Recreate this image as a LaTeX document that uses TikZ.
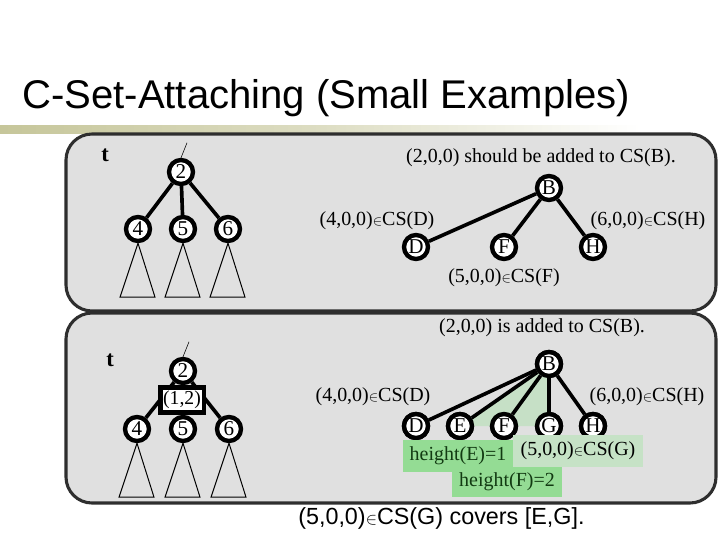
\documentclass[tikz,border=0pt]{standalone}
\usepackage{fontspec}
\setmainfont{Liberation Serif}
\setsansfont{Liberation Sans}
\usetikzlibrary{positioning}
\definecolor{panelgray}{HTML}{E0E0E0}
\definecolor{paneledge}{HTML}{2E2E2E}
\definecolor{barolive}{HTML}{C6C69A}
\definecolor{hgreen}{HTML}{94DC94}
\definecolor{csgreen}{HTML}{C6E2C6}
\definecolor{fangreen}{HTML}{C6E0C6}
\definecolor{labgreen}{HTML}{123A12}

\begin{document}
\begin{tikzpicture}[x=0.025cm, y=-0.025cm,
    vert/.style={circle, draw, line width=3.1pt, fill=white, inner sep=0pt,
                 minimum size=0.6cm, font=\fontsize{15}{15}\selectfont},
    edge/.style={line width=2.6pt},
    lab/.style={font=\fontsize{14.2}{16}\selectfont, inner sep=1pt},
    subtree/.style={draw, line width=0.7pt},
    panel/.style={draw=paneledge, line width=2.2pt, fill=panelgray, rounded corners=0.65cm},
    tagbox/.style={lab, minimum width=2.75cm, minimum height=0.78cm, inner sep=0pt}
]
  \useasboundingbox (0,0) rectangle (720,540);

  % title and bar
  \node[anchor=base west, inner sep=0pt, font=\sffamily\fontsize{28.5}{30}\selectfont] (title) at (22,108) {C-Set-Attaching (Small Examples)};
  \shade[left color=barolive, right color=white, middle color=barolive!60!white] (0,125) rectangle (640,133);

  \draw[panel] (66,134) rectangle (716,311);
  \draw[panel] (66,313) rectangle (716,503);

  % top left: tree t
  \node[lab, font=\bfseries\fontsize{16}{16}\selectfont] (t1) at (105,155) {t};
  \node[vert] (a2) at (181,172) {2};
  \node[vert] (a4) at (138,229) {4};
  \node[vert] (a5) at (183,229) {5};
  \node[vert] (a6) at (228,229) {6};
  \draw[thin] (a2.north) -- ++(6,-15);
  \draw[edge] (a2) -- (a4);
  \draw[edge] (a2) -- (a5);
  \draw[edge] (a2) -- (a6);
  \foreach \n in {a4,a5,a6}
    \draw[subtree] (\n.south) -- ++(-18,54) -- ++(35,0) -- cycle;

  % top right: C-sets before
  \node[lab] (msg1) at (541,158) {(2,0,0) should be added to CS(B).};
  \node[vert] (b1) at (549,188) {B};
  \node[vert] (d1) at (416,247) {D};
  \node[vert] (f1) at (504,247) {F};
  \node[vert] (h1) at (593,247) {H};
  \draw[edge] (b1) -- (d1);
  \draw[edge] (b1) -- (f1);
  \draw[edge] (b1) -- (h1);
  \node[lab] (csd1) at (377,221) {(4,0,0)${\scriptstyle\in}$CS(D)};
  \node[lab] (csh1) at (648,221) {(6,0,0)${\scriptstyle\in}$CS(H)};
  \node[lab, below=0.15cm of f1] (csf1) {(5,0,0)${\scriptstyle\in}$CS(F)};

  % bottom left: tree t with (1,2)
  \node[lab, font=\bfseries\fontsize{16}{16}\selectfont] (t2) at (110,360) {t};
  \node[vert] (c2) at (183,371) {2};
  \node[vert] (c4) at (137,429) {4};
  \node[vert] (c5) at (183,429) {5};
  \node[vert] (c6) at (229,429) {6};
  \draw[thin] (c2.north) -- ++(6,-15);
  \draw[edge] (c2) -- (c4);
  \draw[edge] (c2) -- (c5);
  \draw[edge] (c2) -- (c6);
  \node[draw, line width=3pt, fill=white, inner sep=1pt, minimum width=1.08cm, minimum height=0.62cm,
        font=\fontsize{14}{14}\selectfont] (c12) at (182,400) {(1,2)};
  \foreach \n in {c4,c5,c6}
    \draw[subtree] (\n.south) -- ++(-18,54) -- ++(35,0) -- cycle;

  % bottom right: C-sets after
  \node[lab] (msg2) at (542,328) {(2,0,0) is added to CS(B).};
  \node[vert] (b2) at (549,364) {B};
  \node[vert] (d2) at (416,426) {D};
  \node[vert] (e2) at (460,426) {E};
  \node[vert] (f2) at (504,426) {F};
  \node[vert] (g2) at (549,426) {G};
  \node[vert] (h2) at (593,426) {H};
  \fill[fangreen] (b2.center) -- (e2.center) -- (g2.center) -- cycle;
  \foreach \n in {d2,e2,f2,g2,h2}
    \draw[edge] (b2) -- (\n);
  \foreach \n/\t in {b2/B,d2/D,e2/E,f2/F,g2/G,h2/H}
    \node[vert] at (\n) {\t};
  \node[lab] (csd2) at (373,397) {(4,0,0)${\scriptstyle\in}$CS(D)};
  \node[lab] (csh2) at (647,397) {(6,0,0)${\scriptstyle\in}$CS(H)};
  \node[tagbox, fill=hgreen, text=labgreen] (he) at (458,456) {height(E)=1};
  \node[tagbox, fill=hgreen, text=labgreen, minimum height=0.75cm] (hf) at (507,482) {height(F)=2};
  \node[tagbox, fill=csgreen, minimum width=3.25cm] (csg) at (578,451) {(5,0,0)${\scriptstyle\in}$CS(G)};

  % conclusion
  \node[anchor=base west, inner sep=0pt, font=\sffamily\fontsize{16.6}{18}\selectfont] (note) at (298,524)
    {(5,0,0)${\scriptstyle\in}$CS(G) covers [E,G].};
\end{tikzpicture}
\end{document}
